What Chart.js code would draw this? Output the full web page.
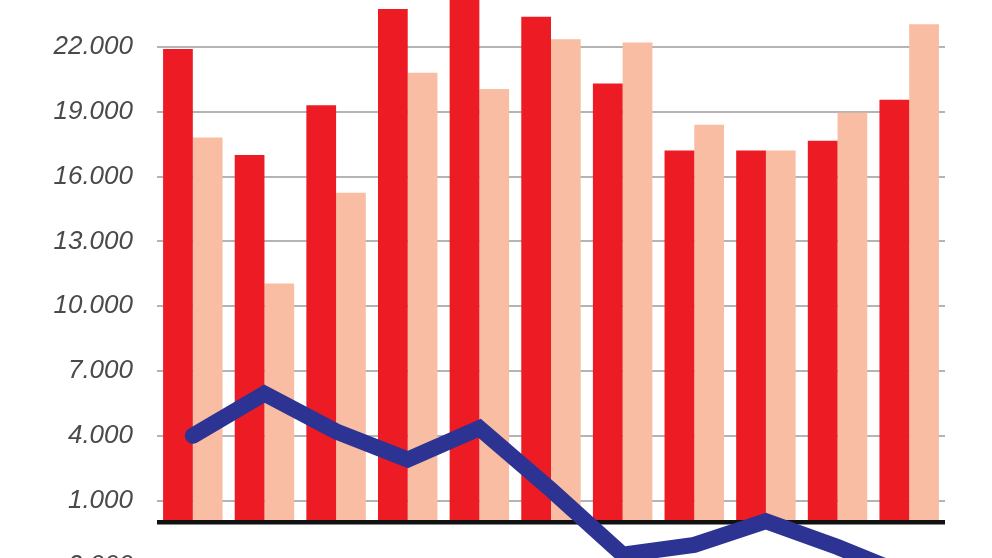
<!DOCTYPE html>
<html>
<head>
<meta charset="utf-8">
<script src="https://cdn.jsdelivr.net/npm/chart.js@4/dist/chart.umd.min.js"></script>
<style>
  html, body { margin: 0; padding: 0; background: #fff; overflow: hidden; }
  #wrap { position: relative; width: 992px; height: 587px; }
</style>
</head>
<body>
<div id="wrap"><canvas id="myChart"></canvas></div>
<script>
  // Data
  const categories = ['1', '2', '3', '4', '5', '6', '7', '8', '9', '10', '11']
  const seriesA = [21900, 17000, 19300, 23750, 24800, 23400, 20300, 17200, 17200, 17650, 19550]
  const seriesB = [17800, 11050, 15250, 20800, 20050, 22350, 22200, 18400, 17200, 18950, 23050]
  const seriesLine = [4000, 5950, 4200, 2900, 4350, 1500, -1500, -1050, 50, -1150, -2500]
  const tickValues = [-2000, 1000, 4000, 7000, 10000, 13000, 16000, 19000, 22000]

  const fmt = v => {
    const s = String(Math.abs(v)).replace(/\B(?=(\d{3})+(?!\d))/g, '.')
    return (v < 0 ? '-' : '') + s
  }

  const ctx = document.getElementById('myChart')
  new Chart(ctx, {
    data: {
      labels: categories,
      datasets: [{
        type: 'line',
        data: seriesLine,
        order: 0,
        borderColor: '#2d3392',
        borderWidth: 16,
        borderCapStyle: 'round',
        borderJoinStyle: 'miter',
        tension: 0,
        pointRadius: 0,
        fill: false
      }, {
        type: 'bar',
        data: seriesA,
        order: 1,
        backgroundColor: '#ed1c24',
        borderWidth: 0,
        barPercentage: 1,
        categoryPercentage: 0.83
      }, {
        type: 'bar',
        data: seriesB,
        order: 1,
        backgroundColor: '#f8bda2',
        borderWidth: 0,
        barPercentage: 1,
        categoryPercentage: 0.83
      }]
    },
    options: {
      responsive: true,
      maintainAspectRatio: false,
      animation: false,
      layout: { padding: { left: 0, right: 47, top: 0, bottom: 0 } },
      plugins: {
        legend: { display: false },
        tooltip: { enabled: false }
      },
      scales: {
        x: { display: false },
        y: {
          min: -3000,
          max: 24170,
          border: { display: false },
          afterBuildTicks: scale => {
            scale.ticks = tickValues.concat([0]).sort((a, b) => a - b).map(v => ({ value: v }))
          },
          afterFit: scale => {
            scale.width = 157
            scale.paddingTop = 0
            scale.paddingBottom = 0
          },
          grid: {
            drawTicks: false,
            color: c => (c.tick && c.tick.value === 0) ? '#111' : '#b4b4b4',
            lineWidth: c => (c.tick && c.tick.value === 0) ? 4.5 : 2
          },
          ticks: {
            padding: 24,
            color: '#4a4a4a',
            font: { family: 'Liberation Sans', size: 26, style: 'italic' },
            callback: v => v === 0 ? '' : fmt(v)
          }
        }
      }
    }
  })
</script>
</body>
</html>
